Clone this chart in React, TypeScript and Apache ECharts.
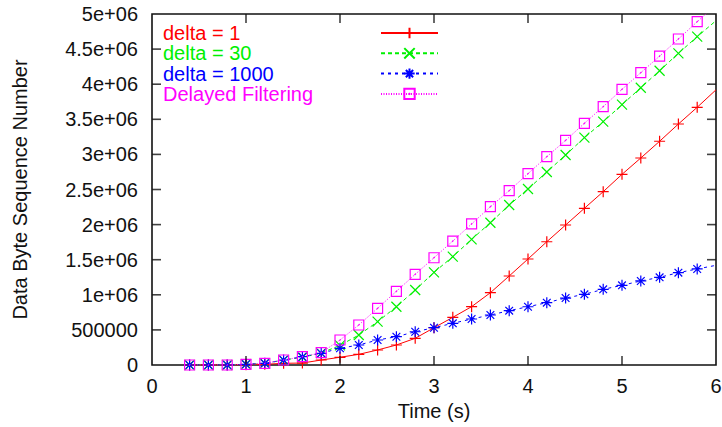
import React, { useEffect, useRef } from "react";
import * as echarts from "echarts";

const times = [0.4, 0.6, 0.8, 1.0, 1.2, 1.4, 1.6, 1.8, 2.0, 2.2, 2.4, 2.6, 2.8, 3.0, 3.2, 3.4, 3.6, 3.8, 4.0, 4.2, 4.4, 4.6, 4.8, 5.0, 5.2, 5.4, 5.6, 5.8];
// values in units of 1e6 bytes
const delta1 = [0, 0, 0, 0.005, 0.01, 0.024, 0.028, 0.071, 0.11, 0.152, 0.214, 0.285, 0.38, 0.531, 0.679, 0.831, 1.03, 1.268, 1.51, 1.756, 1.994, 2.232, 2.469, 2.716, 2.949, 3.187, 3.433, 3.671];
const delta30 = [0, 0, 0, 0.01, 0.024, 0.07, 0.11, 0.17, 0.28, 0.427, 0.617, 0.83, 1.068, 1.32, 1.543, 1.79, 2.027, 2.279, 2.507, 2.749, 2.991, 3.238, 3.466, 3.708, 3.95, 4.192, 4.44, 4.677];
const delta1000 = [0, 0, 0, 0.01, 0.024, 0.071, 0.118, 0.167, 0.238, 0.285, 0.356, 0.403, 0.474, 0.531, 0.594, 0.655, 0.712, 0.774, 0.83, 0.888, 0.954, 1.007, 1.078, 1.135, 1.197, 1.249, 1.315, 1.368];
const delayed = [0, 0, 0, 0.01, 0.024, 0.071, 0.118, 0.175, 0.356, 0.57, 0.808, 1.05, 1.292, 1.528, 1.766, 2.009, 2.255, 2.483, 2.725, 2.967, 3.2, 3.443, 3.68, 3.927, 4.164, 4.4, 4.644, 4.89];
// line continuation at the right edge (no marker)
const endTime = 6.0;
const endValues = { delta1: 3.92, delta30: 4.905, delta1000: 1.42, delayed: 5.13 };

const seriesNames = ["delta = 1", "delta = 30", "delta = 1000", "Delayed Filtering"];
const seriesColors = ["#ff0000", "#00f000", "#0000ff", "#ff00ff"];
const richKeys = ["r", "g", "b", "m"];

// inner tick marks of the frame
const xTickValues = [1, 2, 3, 4, 5];
const yTickValues = [500000, 1000000, 1500000, 2000000, 2500000, 3000000, 3500000, 4000000, 4500000];
const X_MIN = 0;
const X_MAX = 6;
const Y_MIN = 0;
const Y_MAX = 5e6;

const FONT = "Liberation Sans, Arial, Helvetica, sans-serif";
const FS = 20;
const TICK = 9;
const TW = 1.6;

const symPlus = "path://M0,5L10,5M5,0L5,10";
const symCross = "path://M0,0L10,10M10,0L0,10";
const symStar = "path://M0,5L10,5M5,0L5,10M1.5,1.5L8.5,8.5M8.5,1.5L1.5,8.5";
const symBox = "path://M0,0L10,0L10,10L0,10ZM4.3,5.7L5.7,4.3";

function build(vals: number[], end: number) {
  const d: any[] = times.map((t, i) => [t, vals[i] * 1e6]);
  d.push({ value: [endTime, end * 1e6], symbol: "none" });
  return d;
}

export default function App() {
  const ref = useRef<HTMLDivElement>(null);
  useEffect(() => {
    if (!ref.current) return;
    const chart = echarts.init(ref.current, undefined, { renderer: "svg" });
    const mk = (i: number, vals: number[], end: number, symbol: string, size: number, dash: any) => ({
      name: seriesNames[i],
      type: "line",
      data: build(vals, end),
      symbol,
      symbolSize: size,
      showSymbol: true,
      clip: true,
      lineStyle: { color: seriesColors[i], width: 1, type: dash },
      itemStyle: { color: "rgba(0,0,0,0)", borderColor: seriesColors[i], borderWidth: 1.2 },
      emphasis: { disabled: true },
    });
    const tickMarks = (name: string, data: number[][], size: number[], offset: number[]) => ({
      name,
      type: "scatter",
      data,
      symbol: "rect",
      symbolSize: size,
      symbolOffset: offset,
      clip: false,
      silent: true,
      z: 5,
      itemStyle: { color: "#111", borderWidth: 0 },
      emphasis: { disabled: true },
    });
    const rich: any = {};
    richKeys.forEach((k, i) => {
      rich[k] = { color: seriesColors[i], fontFamily: FONT, fontSize: FS, width: 213, align: "left", lineHeight: 20 };
    });
    chart.setOption({
      animation: false,
      grid: {
        left: 152,
        right: 6,
        top: 14,
        bottom: 62,
        containLabel: false,
        outerBoundsMode: "none",
        show: true,
        borderColor: "#111",
        borderWidth: 1.6,
        backgroundColor: "transparent",
      },
      legend: {
        show: true,
        orient: "vertical",
        left: 163,
        top: 23,
        padding: 0,
        align: "right",
        itemWidth: 57,
        itemHeight: 13,
        itemGap: 0.3,
        selectedMode: false,
        formatter: (name: string) => `{${richKeys[seriesNames.indexOf(name)]}|${name}}`,
        textStyle: { fontFamily: FONT, fontSize: FS, lineHeight: 20, rich },
        data: seriesNames,
      },
      xAxis: {
        type: "value",
        min: X_MIN,
        max: X_MAX,
        interval: 1,
        name: "Time (s)",
        nameLocation: "middle",
        nameGap: 35,
        nameTextStyle: { fontFamily: FONT, fontSize: FS, color: "#111" },
        axisLine: { show: false },
        axisTick: { show: false },
        splitLine: { show: false },
        axisLabel: { fontFamily: FONT, fontSize: FS, color: "#111", margin: 11 },
      },
      yAxis: {
        type: "value",
        min: Y_MIN,
        max: Y_MAX,
        interval: 5e5,
        name: "Data Byte Sequence Number",
        nameLocation: "middle",
        nameRotate: 90,
        nameGap: 122,
        nameTextStyle: { fontFamily: FONT, fontSize: FS, color: "#111" },
        axisLine: { show: false },
        axisTick: { show: false },
        splitLine: { show: false },
        axisLabel: {
          fontFamily: FONT,
          fontSize: FS,
          color: "#111",
          margin: 14,
          formatter: (v: number) => (v === 0 ? "0" : v < 1e6 ? String(v) : `${Math.round((v / 1e6) * 10) / 10}e+06`),
        },
      },
      series: [
        tickMarks("tickLeft", yTickValues.map((v) => [X_MIN, v]), [TICK, TW], [TICK / 2, 0]),
        tickMarks("tickRight", yTickValues.map((v) => [X_MAX, v]), [TICK, TW], [-TICK / 2, 0]),
        tickMarks("tickBottom", xTickValues.map((v) => [v, Y_MIN]), [TW, TICK], [0, -TICK / 2]),
        tickMarks("tickTop", xTickValues.map((v) => [v, Y_MAX]), [TW, TICK], [0, TICK / 2]),
        mk(0, delta1, endValues.delta1, symPlus, 11, "solid"),
        mk(1, delta30, endValues.delta30, symCross, 10, [4, 3]),
        mk(2, delta1000, endValues.delta1000, symStar, 11, [3, 4]),
        mk(3, delayed, endValues.delayed, symBox, 10, [1, 1.5]),
      ],
    });
    return () => chart.dispose();
  }, []);
  return <div ref={ref} style={{ width: 722, height: 427, position: "absolute", left: 0, top: 0 }} />;
}
